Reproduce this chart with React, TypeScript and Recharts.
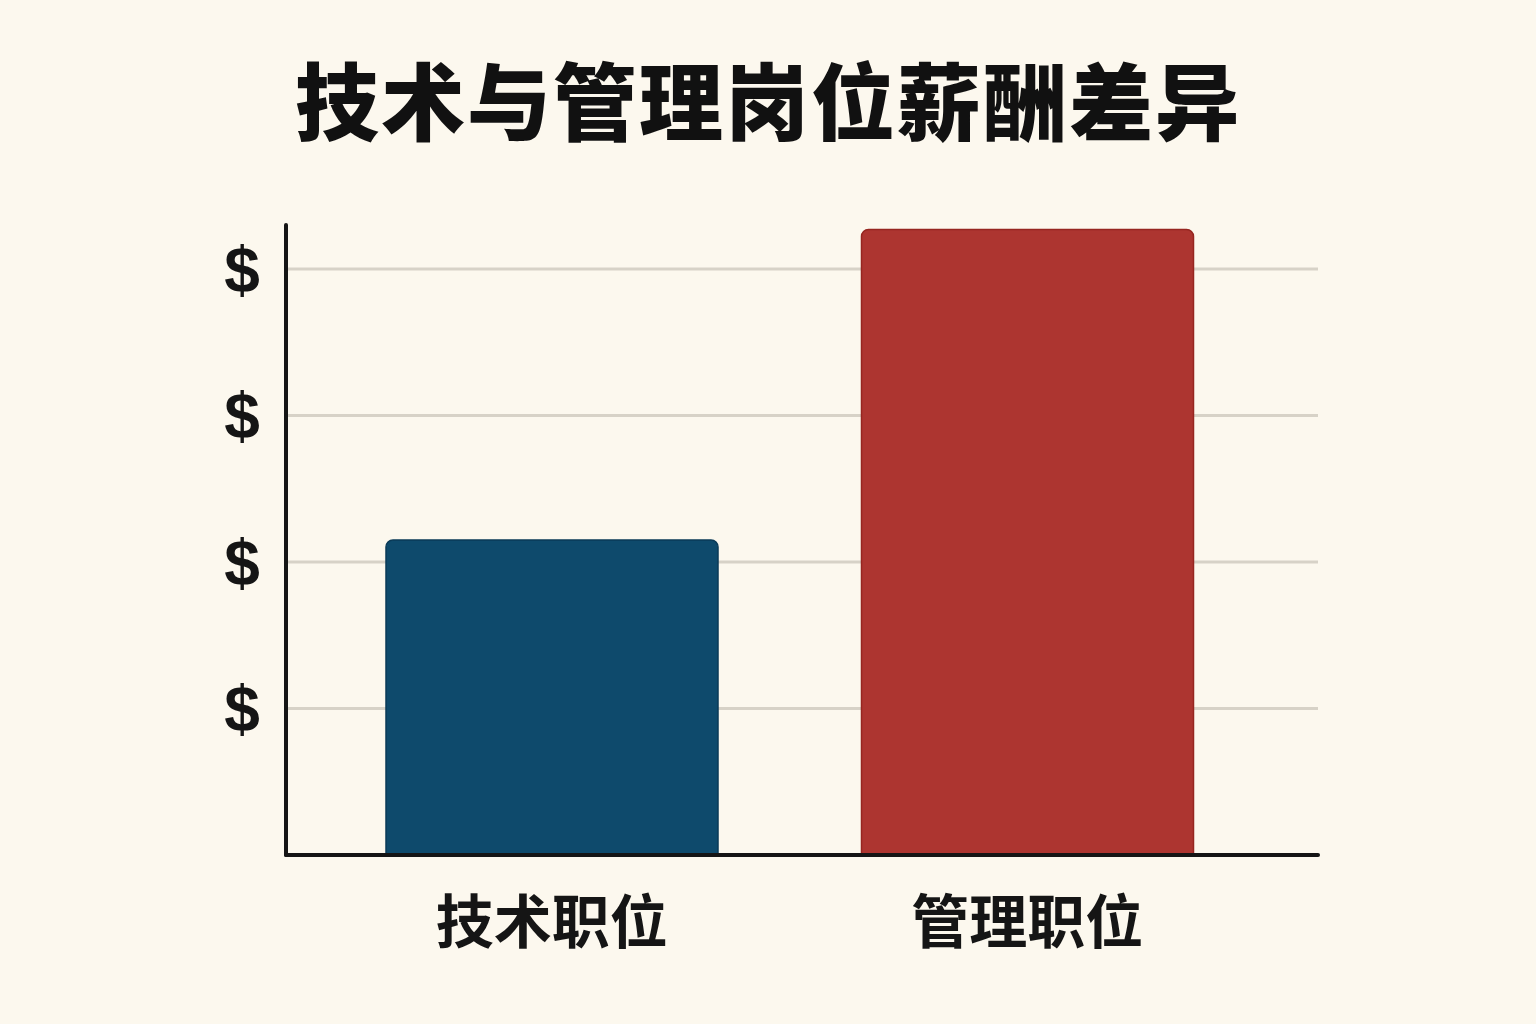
import React from 'react';
import { BarChart, Bar, XAxis, YAxis, CartesianGrid, Cell } from 'recharts';

const categories = ['技术职位', '管理职位'];
const salaryValues = [2.15, 4.27];
const yTicks = [1, 2, 3, 4];
const barColors = ['#0e4a6c', '#ad3530'];
const barStrokes = ['#0a3a57', '#962620'];

const data = categories.map((name, i) => ({ name, value: salaryValues[i] }));

const FONT = '"Noto Sans CJK SC", "Noto Sans", sans-serif';

const App: React.FC = () => {
    return (
        <div
            style={{
                position: 'absolute',
                left: 0,
                top: 0,
                width: 1536,
                height: 1024,
                background: '#fcf8ee',
                fontFamily: FONT,
            }}
        >
            <div
                style={{
                    position: 'absolute',
                    top: 56,
                    left: 0,
                    width: 1536,
                    height: 84,
                    lineHeight: '84px',
                    textAlign: 'center',
                    fontSize: 84,
                    fontWeight: 900,
                    color: '#111111',
                    letterSpacing: 2,
                }}
            >
                技术与管理岗位薪酬差异
            </div>
            <BarChart
                width={1536}
                height={1024}
                data={data}
                margin={{ top: 225, right: 218, bottom: 49, left: 186 }}
                style={{ position: 'absolute', left: 0, top: 0 }}
            >
                <CartesianGrid vertical={false} horizontalValues={yTicks} stroke="#d7d2c7" strokeWidth={3} />
                <YAxis
                    width={100}
                    domain={[0, 4.3]}
                    ticks={yTicks}
                    tickFormatter={() => '$'}
                    axisLine={{ stroke: '#151515', strokeWidth: 4, strokeLinecap: 'round' }}
                    tickLine={false}
                    tickSize={0}
                    tickMargin={44}
                    tick={{
                        fill: '#151515',
                        fontSize: 64,
                        fontWeight: 700,
                        textAnchor: 'middle',
                        fontFamily: '"Liberation Sans", Arial, sans-serif',
                    }}
                />
                <XAxis
                    dataKey="name"
                    height={120}
                    padding={{ left: 28, right: 53 }}
                    axisLine={{ stroke: '#151515', strokeWidth: 4, strokeLinecap: 'round' }}
                    tickLine={false}
                    tickSize={0}
                    tickMargin={47}
                    tick={{ fill: '#151515', fontSize: 58, fontWeight: 700, fontFamily: FONT }}
                />
                <Bar dataKey="value" barSize={332} radius={[7, 7, 0, 0]} strokeWidth={1.5} isAnimationActive={false}>
                    {data.map((entry, index) => (
                        <Cell key={`cell-${index}`} fill={barColors[index]} stroke={barStrokes[index]} />
                    ))}
                </Bar>
            </BarChart>
        </div>
    );
};

export default App;
